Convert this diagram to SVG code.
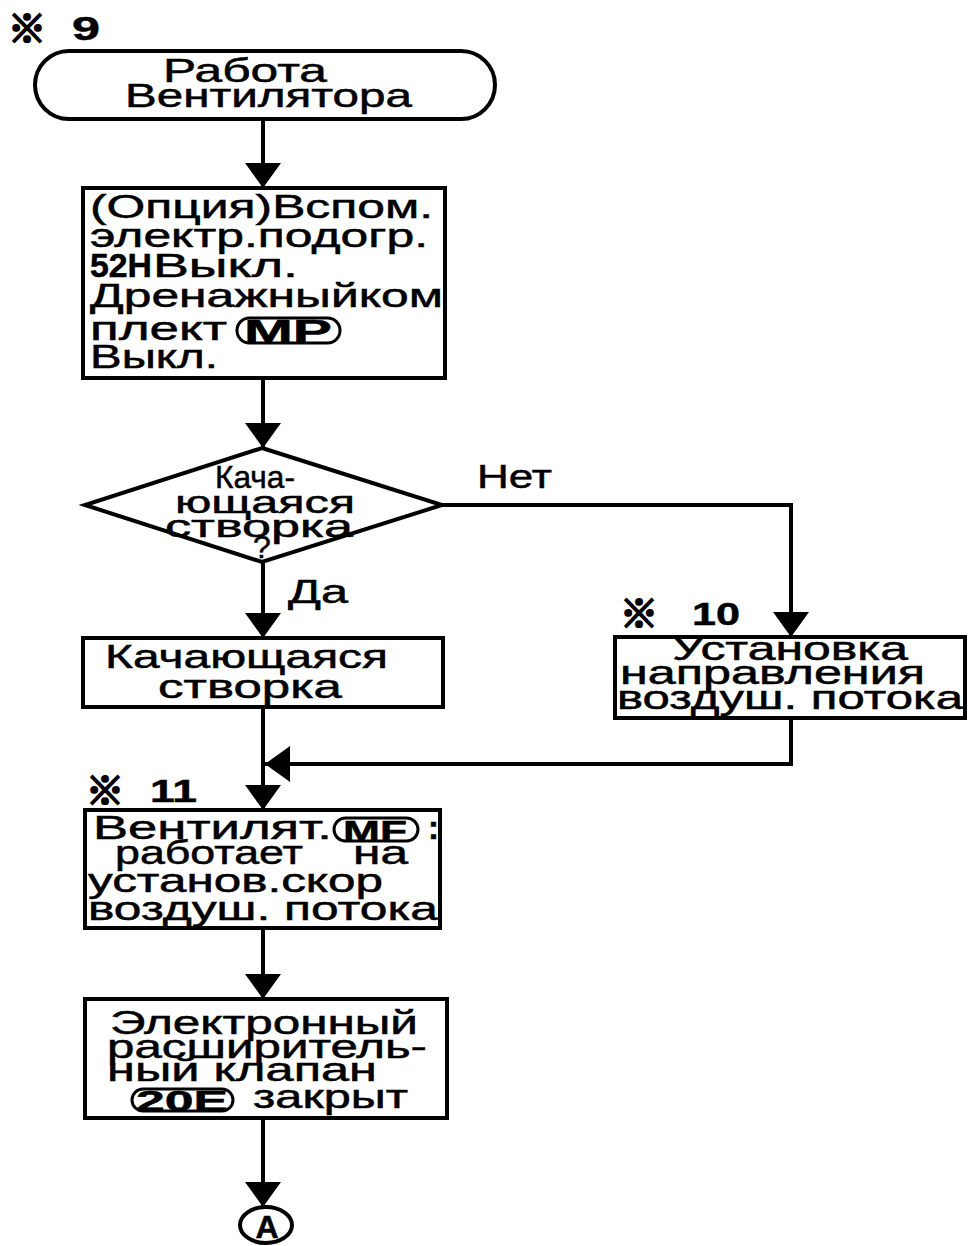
<svg xmlns="http://www.w3.org/2000/svg" width="968" height="1246" viewBox="0 0 968 1246">
<style>
.bg{fill:#fff}
.shape{fill:#fff;stroke:#000;stroke-width:4}
.oval{fill:none;stroke:#000;stroke-width:3}
.ln{fill:none;stroke:#000;stroke-width:4}
text{font-family:"Liberation Sans",Arial,sans-serif;fill:#000;stroke:#000;stroke-width:0.5}
.t{font-size:33px}
.td{font-size:32px}
.b{font-weight:bold}
.mark{font-family:"Noto Sans CJK JP","Liberation Sans",sans-serif;font-weight:bold;font-size:38px;stroke-width:2.2}
</style>
<defs>
<marker id="ah" viewBox="0 0 25 36" refX="25" refY="18" markerWidth="25" markerHeight="36" orient="auto" markerUnits="userSpaceOnUse">
<path d="M0,0 L25,18 L0,36 Z" fill="#000"/>
</marker>
</defs>
<rect class="bg" x="0" y="0" width="968" height="1246"/>

<g id="connectors">
<line class="ln" x1="263" y1="120" x2="263" y2="188" marker-end="url(#ah)"/>
<line class="ln" x1="263" y1="378" x2="263" y2="448" marker-end="url(#ah)"/>
<line class="ln" x1="263" y1="562" x2="263" y2="638" marker-end="url(#ah)"/>
<polyline class="ln" points="442,505 791,505 791,637" marker-end="url(#ah)"/>
<polyline class="ln" points="791,718 791,764 265,764" marker-end="url(#ah)"/>
<line class="ln" x1="263" y1="707" x2="263" y2="810" marker-end="url(#ah)"/>
<line class="ln" x1="263" y1="928" x2="263" y2="999" marker-end="url(#ah)"/>
<line class="ln" x1="263" y1="1118" x2="263" y2="1207" marker-end="url(#ah)"/>
<text class="t" x="477" y="488" textLength="75" lengthAdjust="spacingAndGlyphs">Нет</text>
<text class="t" x="288" y="603" textLength="60" lengthAdjust="spacingAndGlyphs">Да</text>
</g>

<g id="note9">
<text class="mark" x="8" y="42">※</text>
<text class="b" x="72" y="40" font-size="34" textLength="28" lengthAdjust="spacingAndGlyphs">9</text>
</g>

<g id="start">
<rect class="shape" x="35" y="51" width="460" height="68" rx="34"/>
<text class="t" x="163" y="82" textLength="164" lengthAdjust="spacingAndGlyphs">Работа</text>
<text class="t" x="125" y="107" textLength="287" lengthAdjust="spacingAndGlyphs">Вентилятора</text>
</g>

<g id="box-option">
<rect class="shape" x="83" y="188" width="362" height="190"/>
<text class="t" x="90" y="218" textLength="343" lengthAdjust="spacingAndGlyphs">(Опция)Вспом.</text>
<text class="t" x="90" y="247" textLength="338" lengthAdjust="spacingAndGlyphs">электр.подогр.</text>
<text class="t b" x="90" y="277" textLength="62" lengthAdjust="spacingAndGlyphs">52H</text>
<text class="t" x="153" y="277" textLength="145" lengthAdjust="spacingAndGlyphs">Выкл.</text>
<text class="t" x="90" y="307" textLength="353" lengthAdjust="spacingAndGlyphs">Дренажныйком</text>
<text class="t" x="90" y="340" textLength="137" lengthAdjust="spacingAndGlyphs">плект</text>
<rect class="oval" x="237" y="318" width="103" height="25" rx="12.5"/>
<text class="b" x="288" y="342" font-size="32" text-anchor="middle" textLength="88" lengthAdjust="spacingAndGlyphs">MP</text>
<text class="t" x="90" y="368" textLength="128" lengthAdjust="spacingAndGlyphs">Выкл.</text>
</g>

<g id="decision">
<polygon class="shape" points="262,448 442,505 262,562 85,505"/>
<text class="td" x="215" y="488" textLength="80" lengthAdjust="spacingAndGlyphs">Кача-</text>
<text class="td" x="175" y="513" textLength="180" lengthAdjust="spacingAndGlyphs">ющаяся</text>
<text class="td" x="165" y="537" textLength="188" lengthAdjust="spacingAndGlyphs">створка</text>
<text class="td" x="262" y="558" text-anchor="middle">?</text>
</g>

<g id="box-swing">
<rect class="shape" x="83" y="638" width="360" height="69"/>
<text class="t" x="105" y="668" textLength="283" lengthAdjust="spacingAndGlyphs">Качающаяся</text>
<text class="t" x="158" y="698" textLength="184" lengthAdjust="spacingAndGlyphs">створка</text>
</g>

<g id="note10">
<text class="mark" x="620" y="627">※</text>
<text class="b" x="692" y="625" font-size="32" textLength="48" lengthAdjust="spacingAndGlyphs">10</text>
</g>

<g id="box-direction">
<rect class="shape" x="615" y="637" width="350" height="81"/>
<text class="t" x="672" y="660" textLength="236" lengthAdjust="spacingAndGlyphs">Установка</text>
<text class="t" x="620" y="684" textLength="305" lengthAdjust="spacingAndGlyphs">направления</text>
<text class="t" x="617" y="709" textLength="346" lengthAdjust="spacingAndGlyphs">воздуш. потока</text>
</g>

<g id="note11">
<text class="mark" x="86" y="804">※</text>
<text class="b" x="150" y="802" font-size="32" textLength="47" lengthAdjust="spacingAndGlyphs">11</text>
</g>

<g id="box-fan">
<rect class="shape" x="85" y="810" width="355" height="118"/>
<text class="t" x="93" y="839" textLength="239" lengthAdjust="spacingAndGlyphs">Вентилят.</text>
<rect class="oval" x="334" y="818" width="84" height="23" rx="11.5"/>
<text class="b" x="375" y="841" font-size="30" text-anchor="middle" textLength="64" lengthAdjust="spacingAndGlyphs">MF</text>
<text class="t b" x="428" y="839">:</text>
<text class="t" x="115" y="864" textLength="188" lengthAdjust="spacingAndGlyphs">работает</text>
<text class="t" x="353" y="864" textLength="55" lengthAdjust="spacingAndGlyphs">на</text>
<text class="t" x="88" y="892" textLength="295" lengthAdjust="spacingAndGlyphs">установ.скор</text>
<text class="t" x="88" y="920" textLength="350" lengthAdjust="spacingAndGlyphs">воздуш. потока</text>
</g>

<g id="box-valve">
<rect class="shape" x="85" y="999" width="362" height="119"/>
<text class="t" x="110" y="1034" textLength="308" lengthAdjust="spacingAndGlyphs">Электронный</text>
<text class="t" x="107" y="1058" textLength="320" lengthAdjust="spacingAndGlyphs">расширитель-</text>
<text class="t" x="107" y="1081" textLength="270" lengthAdjust="spacingAndGlyphs">ный клапан</text>
<rect class="oval" x="132" y="1089" width="101" height="22" rx="11"/>
<text class="b" x="182" y="1111" font-size="30" text-anchor="middle" textLength="92" lengthAdjust="spacingAndGlyphs">20E</text>
<text class="t" x="253" y="1108" textLength="155" lengthAdjust="spacingAndGlyphs">закрыт</text>
</g>

<g id="connector-A">
<ellipse cx="266" cy="1225" rx="26" ry="18" fill="#fff" stroke="#000" stroke-width="4"/>
<text class="b" x="267" y="1238" font-size="32" text-anchor="middle">A</text>
</g>
</svg>
